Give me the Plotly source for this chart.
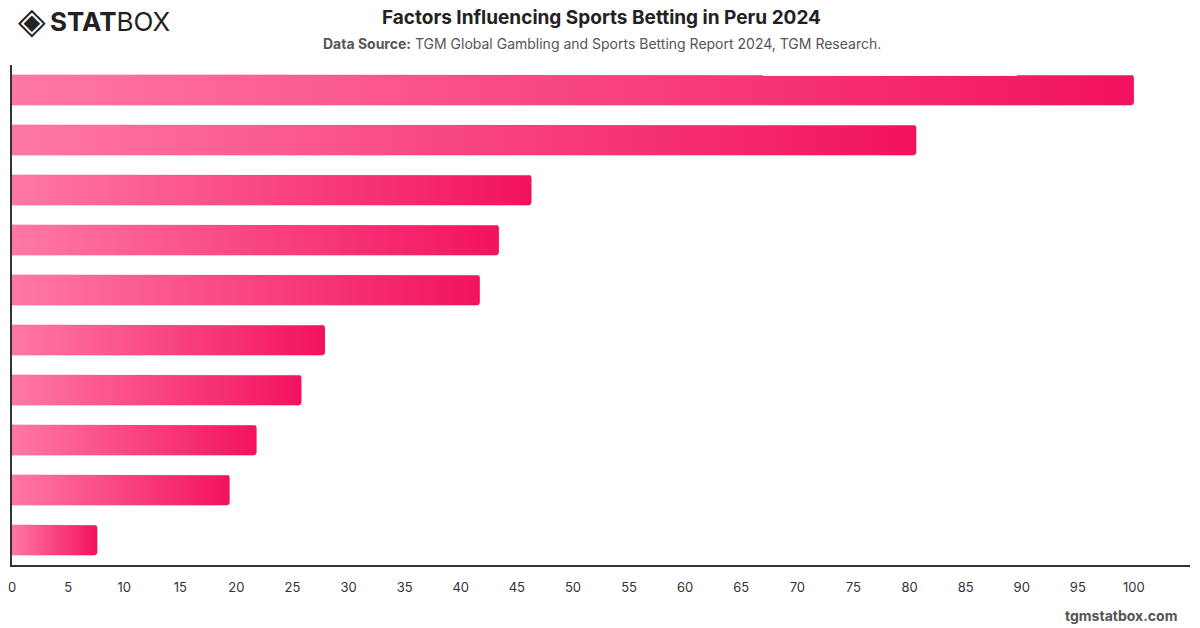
import plotly.graph_objects as go
import numpy as np

# Data (category labels not shown in the reference; bars ordered top to bottom)
rank = [1, 2, 3, 4, 5, 6, 7, 8, 9, 10]
values = [100, 80.6, 46.3, 43.4, 41.7, 27.9, 25.8, 21.8, 19.4, 7.6]
x_ticks = list(range(0, 101, 5))

title = "Factors Influencing Sports Betting in Peru 2024"
subtitle = "<b>Data Source:</b> TGM Global Gambling and Sports Betting Report 2024, TGM Research."

BAR_HALF = 0.305
X_MAX = 105.0
C_LEFT = "#FF78A6"
C_RIGHT = "#F2125F"

fig = go.Figure()

# rounded right-end corners (radius in data units approximating ~3px)
rx = 0.28
ry = 0.06
theta = np.linspace(0, np.pi / 2, 6)

for i, v in enumerate(values):
    yc = i
    y0, y1 = yc - BAR_HALF, yc + BAR_HALF
    xs = [0, v - rx]
    ys = [y0, y0]
    for t in theta:
        xs.append(v - rx + rx * np.sin(t))
        ys.append(y0 + ry - ry * np.cos(t))
    for t in theta:
        xs.append(v - rx + rx * np.cos(t))
        ys.append(y1 - ry + ry * np.sin(t))
    xs += [v - rx, 0, 0]
    ys += [y1, y1, y0]
    fig.add_trace(go.Scatter(
        x=xs, y=ys, mode="lines", fill="toself",
        line=dict(width=0.5, color="rgba(242,18,95,0.15)"),
        fillgradient=dict(type="horizontal",
                          colorscale=[[0, C_LEFT], [1, C_RIGHT]]),
        hoverinfo="skip", showlegend=False,
    ))

W, H = 1200, 628
ML, MR, MT, MB = 8, 10, 65, 63

fig.update_layout(
    width=W, height=H,
    margin=dict(l=ML, r=MR, t=MT, b=MB),
    paper_bgcolor="white", plot_bgcolor="white",
    font=dict(family="Inter, Roboto, sans-serif", color="#333"),
    xaxis=dict(range=[0, X_MAX], tickvals=x_ticks, showgrid=False, zeroline=False,
               showline=True, linecolor="#333", linewidth=1.5,
               ticks="outside", ticklen=10, tickcolor="rgba(0,0,0,0)",
               tickfont=dict(size=13, color="#333")),
    yaxis=dict(range=[9.5, -0.5], showgrid=False, zeroline=False,
               showline=True, linecolor="#333", linewidth=1.5,
               showticklabels=False, ticks=""),
)

pw, ph = W - ML - MR, H - MT - MB
def px(xp):
    return (xp - ML) / pw
def py(yp):
    return (H - MB - yp) / ph

fig.add_annotation(text="<b>" + title + "</b>", x=px(600), y=py(18), xref="paper", yref="paper",
                   xanchor="center", yanchor="middle", showarrow=False,
                   font=dict(size=19, color="#222"))
fig.add_annotation(text=subtitle, x=px(600), y=py(44), xref="paper", yref="paper",
                   xanchor="center", yanchor="middle", showarrow=False,
                   font=dict(size=14, color="#555"))
fig.add_annotation(text="<b>tgmstatbox.com</b>", x=px(1179), y=py(615), xref="paper", yref="paper",
                   xanchor="right", yanchor="middle", showarrow=False,
                   font=dict(size=14, color="#555"))
fig.add_annotation(text="◈", x=px(12), y=py(21), xref="paper", yref="paper",
                   xanchor="left", yanchor="middle", showarrow=False,
                   font=dict(size=36, color="#222", family="DejaVu Sans"))
fig.add_annotation(text="<b>STAT</b>BOX", x=px(44), y=py(22), xref="paper", yref="paper",
                   xanchor="left", yanchor="middle", showarrow=False,
                   font=dict(size=26, color="#222", family="Inter, Roboto, sans-serif"))

fig.write_html("out.html")
